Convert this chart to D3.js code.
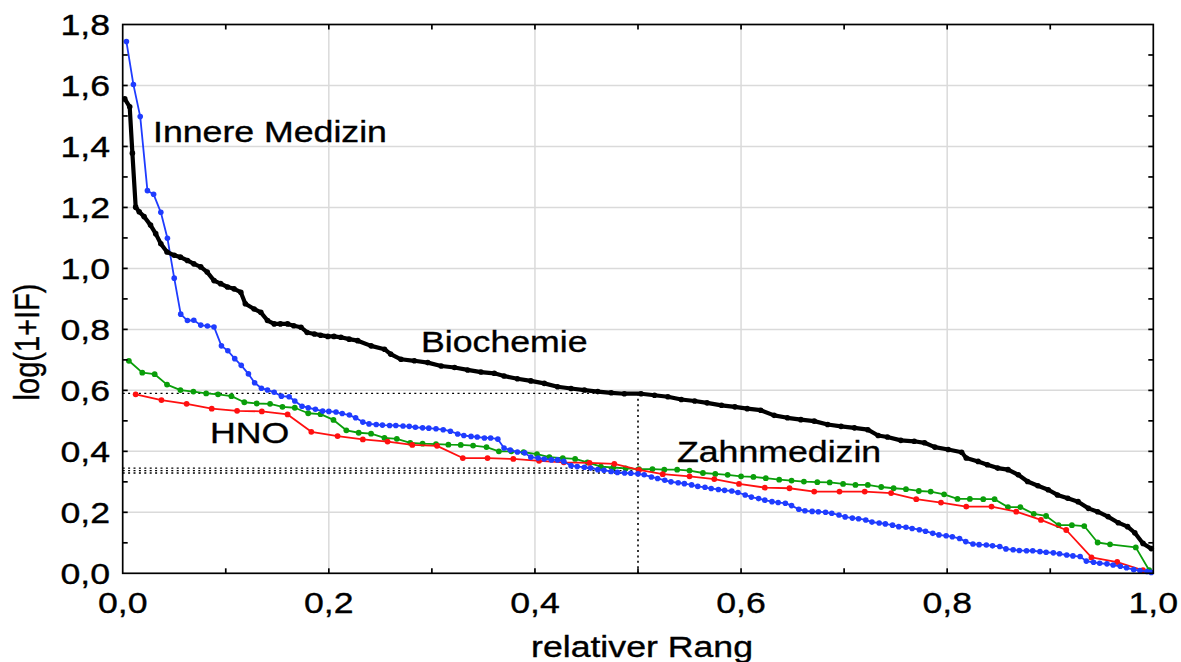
<!DOCTYPE html>
<html>
<head>
<meta charset="utf-8">
<script src="https://cdn.jsdelivr.net/npm/d3@7"></script>
<style>
  html, body { margin: 0; padding: 0; background: #fff; }
  svg { display: block; font-family: "Liberation Sans", Arial, sans-serif; }
</style>
</head>
<body>
<svg id="chart" width="1181" height="662"></svg>
<script>
// ── data (relativer Rang, log(1+IF)) ────────────────────────────
const xTicks = ["0,0", "0,2", "0,4", "0,6", "0,8", "1,0"];
const yTicks = ["0,0", "0,2", "0,4", "0,6", "0,8", "1,0", "1,2", "1,4", "1,6", "1,8"];

const biochemie = [
  [0.002,1.556],[0.0068,1.530],[0.0094,1.378],[0.0126,1.201],[0.016,1.186],[0.0207,1.170],
  [0.027,1.142],[0.032,1.114],[0.037,1.081],[0.043,1.054],[0.050,1.043],[0.056,1.037],
  [0.0628,1.026],[0.069,1.015],[0.0757,1.005],[0.082,0.988],[0.0886,0.960],[0.095,0.950],
  [0.1017,0.939],[0.108,0.933],[0.1146,0.922],[0.119,0.884],[0.1275,0.867],[0.134,0.856],
  [0.1405,0.829],[0.147,0.818],[0.153,0.818],[0.160,0.818],[0.166,0.812],[0.173,0.807],
  [0.179,0.790],[0.186,0.785],[0.192,0.781],[0.199,0.777],[0.205,0.777],[0.2117,0.774],
  [0.2197,0.768],[0.228,0.763],[0.241,0.746],[0.254,0.735],[0.260,0.719],[0.270,0.702],
  [0.283,0.697],[0.296,0.691],[0.309,0.680],[0.322,0.675],[0.3347,0.667],[0.3476,0.660],
  [0.3605,0.656],[0.370,0.647],[0.383,0.638],[0.396,0.631],[0.409,0.623],[0.422,0.612],
  [0.435,0.606],[0.448,0.601],[0.461,0.596],[0.474,0.592],[0.4867,0.589],[0.503,0.589],
  [0.516,0.584],[0.529,0.579],[0.542,0.570],[0.555,0.565],[0.567,0.559],[0.581,0.551],
  [0.594,0.546],[0.606,0.540],[0.619,0.535],[0.632,0.518],[0.645,0.510],[0.658,0.504],
  [0.671,0.499],[0.684,0.488],[0.697,0.482],[0.710,0.477],[0.723,0.471],[0.733,0.452],
  [0.742,0.447],[0.755,0.436],[0.768,0.433],[0.778,0.428],[0.788,0.414],[0.801,0.406],
  [0.814,0.397],[0.8185,0.378],[0.830,0.367],[0.839,0.356],[0.849,0.345],[0.859,0.340],
  [0.869,0.323],[0.878,0.301],[0.888,0.287],[0.898,0.274],[0.907,0.257],[0.917,0.246],
  [0.927,0.235],[0.937,0.213],[0.946,0.202],[0.956,0.186],[0.966,0.166],[0.975,0.153],
  [0.982,0.133],[0.990,0.098],[0.998,0.081]
];

const innereMedizin = [
  [0.0036,1.744],[0.0104,1.603],[0.017,1.498],[0.024,1.255],[0.030,1.243],[0.037,1.184],
  [0.0434,1.099],[0.050,0.968],[0.0563,0.850],[0.0628,0.829],[0.069,0.830],[0.0757,0.814],
  [0.0822,0.811],[0.0886,0.808],[0.0958,0.746],[0.102,0.730],[0.1087,0.704],[0.115,0.682],
  [0.122,0.654],[0.128,0.625],[0.1346,0.607],[0.1405,0.601],[0.147,0.594],[0.154,0.581],
  [0.1615,0.579],[0.167,0.565],[0.174,0.548],[0.180,0.543],[0.187,0.538],[0.194,0.532],
  [0.200,0.531],[0.207,0.529],[0.213,0.524],[0.220,0.519],[0.226,0.510],[0.233,0.496],
  [0.239,0.490],[0.246,0.488],[0.252,0.486],[0.259,0.485],[0.265,0.485],[0.272,0.483],
  [0.278,0.482],[0.284,0.479],[0.291,0.477],[0.297,0.476],[0.304,0.474],[0.311,0.471],
  [0.318,0.466],[0.325,0.457],[0.331,0.452],[0.338,0.449],[0.344,0.447],[0.351,0.444],
  [0.357,0.444],[0.364,0.440],[0.370,0.411],[0.376,0.404],[0.383,0.398],[0.390,0.395],
  [0.396,0.381],[0.403,0.378],[0.409,0.375],[0.416,0.372],[0.422,0.372],[0.428,0.367],
  [0.435,0.353],[0.441,0.350],[0.448,0.348],[0.454,0.345],[0.461,0.340],[0.467,0.338],
  [0.474,0.334],[0.480,0.331],[0.487,0.329],[0.493,0.328],[0.500,0.326],[0.506,0.323],
  [0.513,0.316],[0.519,0.311],[0.526,0.305],[0.532,0.300],[0.539,0.297],[0.545,0.294],
  [0.552,0.290],[0.558,0.285],[0.565,0.282],[0.571,0.278],[0.578,0.275],[0.584,0.272],
  [0.591,0.270],[0.597,0.265],[0.604,0.257],[0.610,0.250],[0.617,0.245],[0.623,0.240],
  [0.630,0.235],[0.636,0.232],[0.643,0.230],[0.649,0.222],[0.656,0.210],[0.662,0.205],
  [0.669,0.203],[0.675,0.202],[0.682,0.200],[0.688,0.197],[0.695,0.191],[0.701,0.185],
  [0.708,0.181],[0.714,0.179],[0.721,0.175],[0.727,0.168],[0.734,0.165],[0.740,0.162],
  [0.747,0.158],[0.753,0.153],[0.760,0.151],[0.766,0.147],[0.773,0.143],[0.779,0.138],
  [0.786,0.131],[0.792,0.126],[0.799,0.123],[0.805,0.120],[0.812,0.114],[0.818,0.104],
  [0.825,0.096],[0.831,0.094],[0.838,0.093],[0.844,0.090],[0.851,0.088],[0.857,0.080],
  [0.864,0.077],[0.870,0.075],[0.877,0.074],[0.883,0.074],[0.890,0.071],[0.896,0.069],
  [0.903,0.067],[0.909,0.064],[0.916,0.060],[0.922,0.057],[0.929,0.055],[0.935,0.040],
  [0.942,0.036],[0.948,0.033],[0.955,0.031],[0.961,0.027],[0.968,0.023],[0.974,0.018],
  [0.981,0.012],[0.987,0.009],[0.994,0.006],[0.998,0.003]
];

const zahnmedizin = [
  [0.006,0.697],[0.019,0.658],[0.031,0.653],[0.043,0.619],[0.056,0.601],[0.0686,0.596],
  [0.081,0.590],[0.0925,0.587],[0.1055,0.581],[0.118,0.561],[0.130,0.557],[0.143,0.556],
  [0.155,0.546],[0.167,0.543],[0.180,0.525],[0.192,0.522],[0.2045,0.503],[0.217,0.469],
  [0.229,0.461],[0.241,0.458],[0.254,0.444],[0.266,0.441],[0.279,0.428],[0.291,0.425],
  [0.304,0.424],[0.316,0.422],[0.328,0.421],[0.340,0.419],[0.353,0.414],[0.365,0.400],
  [0.377,0.400],[0.389,0.397],[0.402,0.391],[0.414,0.381],[0.427,0.378],[0.439,0.375],
  [0.451,0.364],[0.464,0.350],[0.476,0.347],[0.488,0.344],[0.501,0.342],[0.514,0.342],
  [0.5255,0.340],[0.538,0.340],[0.550,0.337],[0.563,0.329],[0.575,0.326],[0.587,0.323],
  [0.600,0.318],[0.612,0.316],[0.624,0.312],[0.637,0.307],[0.649,0.304],[0.661,0.301],
  [0.674,0.299],[0.686,0.298],[0.699,0.293],[0.711,0.290],[0.723,0.290],[0.736,0.283],
  [0.748,0.279],[0.760,0.276],[0.7725,0.270],[0.784,0.268],[0.797,0.259],[0.810,0.244],
  [0.822,0.244],[0.835,0.243],[0.846,0.243],[0.859,0.217],[0.871,0.217],[0.884,0.195],
  [0.896,0.188],[0.908,0.158],[0.921,0.158],[0.933,0.155],[0.946,0.101],[0.958,0.095],
  [0.983,0.085],[0.996,0.010]
];

const hno = [
  [0.0126,0.587],[0.0376,0.568],[0.062,0.556],[0.0864,0.540],[0.111,0.533],[0.135,0.531],
  [0.160,0.521],[0.183,0.464],[0.2085,0.450],[0.233,0.439],[0.257,0.432],[0.281,0.421],
  [0.305,0.418],[0.330,0.378],[0.354,0.378],[0.379,0.375],[0.404,0.369],[0.428,0.364],
  [0.453,0.362],[0.477,0.359],[0.501,0.339],[0.524,0.325],[0.550,0.318],[0.574,0.309],
  [0.598,0.293],[0.623,0.281],[0.647,0.279],[0.671,0.268],[0.6955,0.268],[0.720,0.268],
  [0.7456,0.263],[0.770,0.243],[0.794,0.232],[0.8185,0.219],[0.843,0.219],[0.867,0.202],
  [0.891,0.175],[0.9155,0.142],[0.940,0.052],[0.965,0.037],[0.990,0.010]
];

// medians: Biochemie, Zahnmedizin, HNO, Innere Medizin
const medians = [0.590, 0.345, 0.337, 0.329];

// ── layout ─────────────────────────────────────────────────────
const svg = d3.select("#chart");
const x = d3.scaleLinear().domain([0, 1]).range([122.7, 1153.3]);
const y = d3.scaleLinear().domain([0, 1.8]).range([573.3, 24.5]);
const SX = 1.23;   // glyphs in the original are stretched horizontally
const FS = 29;

svg.append("rect").attr("width", 1181).attr("height", 662).attr("fill", "#fff");

// gridlines
const g = svg.append("g");
g.selectAll(".gx").data(d3.range(0.2, 0.81, 0.2)).join("line")
  .attr("x1", d => x(d)).attr("x2", d => x(d))
  .attr("y1", y(0)).attr("y2", y(1.8))
  .attr("stroke", "#dadada").attr("stroke-width", 1.5);
g.selectAll(".gy").data(d3.range(0.2, 1.61, 0.2)).join("line")
  .attr("y1", d => y(d)).attr("y2", d => y(d))
  .attr("x1", x(0)).attr("x2", x(1))
  .attr("stroke", "#dadada").attr("stroke-width", 1.5);

// dotted median lines
const dots = svg.append("g").attr("stroke", "#000").attr("stroke-width", 1.3)
  .attr("stroke-dasharray", "2,3.4").attr("fill", "none");
medians.forEach(m => {
  dots.append("line").attr("x1", x(0)).attr("x2", x(0.5)).attr("y1", y(m)).attr("y2", y(m));
});
dots.append("line").attr("x1", x(0.5)).attr("x2", x(0.5))
  .attr("y1", y(medians[0])).attr("y2", y(0)).attr("stroke-width", 1.6);

// series
const line = d3.line().x(d => x(d[0])).y(d => y(d[1]));
const series = [
  { data: zahnmedizin,   color: "#0a9e0a", w: 1.8, r: 2.9 },
  { data: hno,           color: "#ff1010", w: 1.8, r: 2.9 },
  { data: innereMedizin, color: "#1f3cff", w: 1.8, r: 2.8 },
  { data: biochemie,     color: "#000000", w: 4.2, r: 2.8 }
];
series.forEach(s => {
  const sg = svg.append("g");
  sg.append("path").datum(s.data).attr("d", line)
    .attr("fill", "none").attr("stroke", s.color).attr("stroke-width", s.w)
    .attr("stroke-linejoin", "round");
  sg.selectAll("circle").data(s.data).join("circle")
    .attr("cx", d => x(d[0])).attr("cy", d => y(d[1])).attr("r", s.r)
    .attr("fill", s.color);
});

// frame and inward ticks every 0.1
const frame = svg.append("g").attr("stroke", "#000").attr("stroke-width", 1.7);
frame.append("rect").attr("x", x(0)).attr("y", y(1.8))
  .attr("width", x(1) - x(0)).attr("height", y(0) - y(1.8)).attr("fill", "none");
const tx = d3.range(1, 10).map(i => i / 10);
const ty = d3.range(1, 18).map(i => i / 10);
tx.forEach(v => {
  frame.append("line").attr("x1", x(v)).attr("x2", x(v)).attr("y1", y(0)).attr("y2", y(0) - 5);
  frame.append("line").attr("x1", x(v)).attr("x2", x(v)).attr("y1", y(1.8)).attr("y2", y(1.8) + 5);
});
ty.forEach(v => {
  frame.append("line").attr("y1", y(v)).attr("y2", y(v)).attr("x1", x(0)).attr("x2", x(0) + 5);
  frame.append("line").attr("y1", y(v)).attr("y2", y(v)).attr("x1", x(1)).attr("x2", x(1) - 5);
});

// text helper (horizontally stretched)
function label(txt, px, py, anchor, extra) {
  return svg.append("text")
    .attr("transform", `translate(${px},${py}) scale(${SX},1)` + (extra || ""))
    .attr("text-anchor", anchor || "start")
    .attr("font-size", FS).attr("fill", "#000")
    .attr("stroke", "#000").attr("stroke-width", 0.35)
    .text(txt);
}

// tick labels
xTicks.forEach((t, i) => label(t, x(i * 0.2), 613, "middle"));
yTicks.forEach((t, i) => label(t, 110, y(i * 0.2) + 10.5, "end"));

// axis titles
label("relativer Rang", x(0.5) + 4, 657, "middle");
label("log(1+IF)", 39, 342, "middle", " rotate(-90)");

// series labels
label("Innere Medizin", 153, 142);
label("Biochemie", 421, 352);
label("HNO", 210, 443);
label("Zahnmedizin", 677, 462);
</script>
</body>
</html>
